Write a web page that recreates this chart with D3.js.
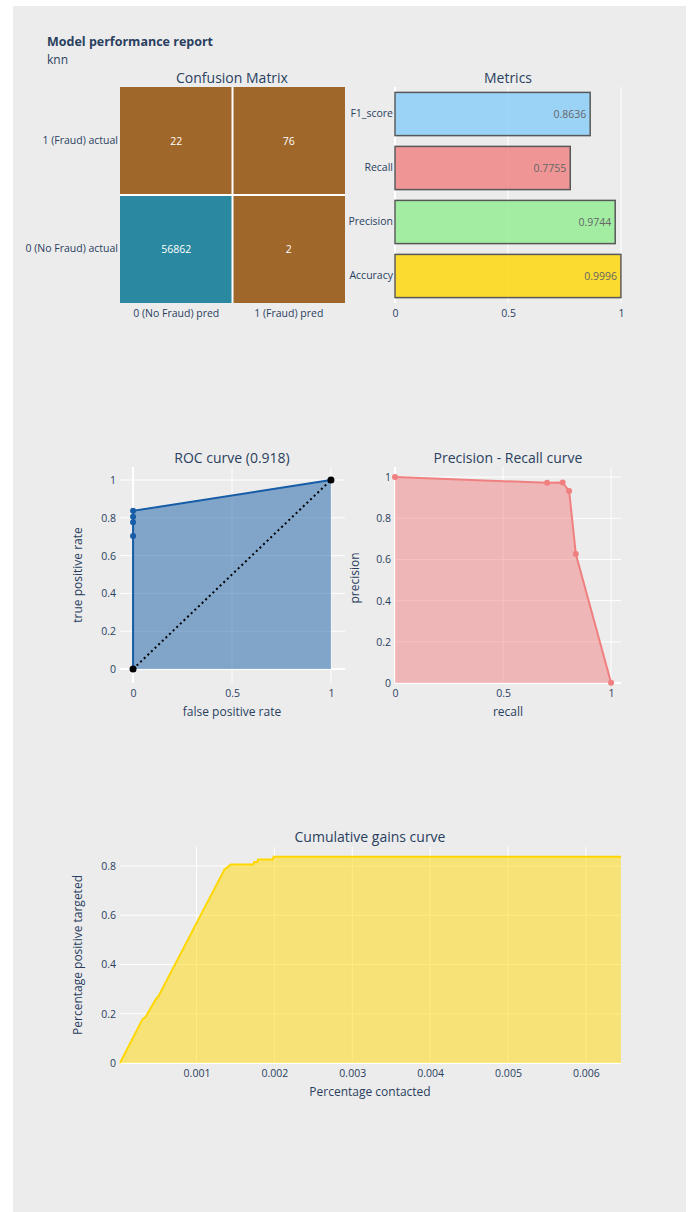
<!DOCTYPE html>
<html>
<head>
<meta charset="utf-8">
<script src="https://cdn.jsdelivr.net/npm/d3@7"></script>
<style>
  body { margin: 0; background: #fff; }
  text { font-family: "Open Sans", verdana, arial, sans-serif; fill: #2a3f5f; }
</style>
</head>
<body>
<div class="chart"></div>
<script>
// ---- data ----
var cmRows = ["1 (Fraud) actual", "0 (No Fraud) actual"];
var cmCols = ["0 (No Fraud) pred", "1 (Fraud) pred"];
var cmValues = [[22, 76], [56862, 2]];

var metricNames = ["F1_score", "Recall", "Precision", "Accuracy"];
var metricValues = [0.8636, 0.7755, 0.9744, 0.9996];
var metricColors = ["lightskyblue", "lightcoral", "lightgreen", "gold"];

var rocFpr = [0, 0, 0, 0, 0, 1];
var rocTpr = [0, 0.704, 0.776, 0.806, 0.837, 1];
var rocAuc = 0.918;
var diagX = [0, 1];
var diagY = [0, 1];

var prRecall = [0, 0.704, 0.776, 0.806, 0.837, 1];
var prPrecision = [1, 0.972, 0.974, 0.932, 0.626, 0.0017];

var gainsX = [0.0000176, 0.00031, 0.00034, 0.00048, 0.00051, 0.00136, 0.00144,
  0.00173, 0.00174, 0.00178, 0.00179, 0.00198, 0.00199, 0.00645];
var gainsY = [0, 0.18, 0.184, 0.26, 0.27, 0.786, 0.806,
  0.806, 0.816, 0.816, 0.826, 0.826, 0.837, 0.837];

var fontTick = "10.5px";
var fontTitle = "14px";

var svg = d3.select(".chart").append("svg")
  .attr("width", 690)
  .attr("height", 1212);

// page background
svg.append("rect")
  .attr("x", 13).attr("y", 6)
  .attr("width", 673).attr("height", 1206)
  .attr("fill", "#ececec");

svg.append("text")
  .attr("x", 47).attr("y", 46)
  .style("font-size", "12.5px")
  .style("font-weight", "bold")
  .text("Model performance report");
svg.append("text")
  .attr("x", 47).attr("y", 63.5)
  .style("font-size", "12px")
  .text("knn");

function subTitle(x, y, txt) {
  svg.append("text")
    .attr("x", x).attr("y", y)
    .attr("text-anchor", "middle")
    .style("font-size", fontTitle)
    .text(txt);
}

// white grid lines + tick labels for a panel
function drawAxes(g, x, y, xTicks, yTicks, xFmt, yFmt) {
  var x0 = x.range()[0], x1 = x.range()[1];
  var y0 = y.range()[0], y1 = y.range()[1];
  g.selectAll("line.vg").data(xTicks).enter().append("line")
    .attr("x1", d => x(d)).attr("x2", d => x(d))
    .attr("y1", y1).attr("y2", y0)
    .attr("stroke", "#fff").attr("stroke-width", d => d === 0 ? 2 : 1);
  g.selectAll("line.hg").data(yTicks).enter().append("line")
    .attr("y1", d => y(d)).attr("y2", d => y(d))
    .attr("x1", x0).attr("x2", x1)
    .attr("stroke", "#fff").attr("stroke-width", d => d === 0 ? 2 : 1);

  var bottomAxis = d3.axisBottom(x).tickValues(xTicks).tickFormat(xFmt).tickSize(0).tickPadding(7);
  var leftAxis = d3.axisLeft(y).tickValues(yTicks).tickFormat(yFmt).tickSize(0).tickPadding(4);
  var xa = g.append("g").attr("transform", `translate(0, ${y0})`).call(bottomAxis);
  var ya = g.append("g").attr("transform", `translate(${x0}, 0)`).call(leftAxis);
  [xa, ya].forEach(function(a) {
    a.select(".domain").remove();
    a.selectAll("text").style("font-size", fontTick).attr("fill", "#2a3f5f")
      .style("font-family", "'Open Sans', verdana, arial, sans-serif");
  });
}

var fmt = d => d3.format("~g")(d);

// ---- confusion matrix ----
var cmX = d3.scaleBand().domain(cmCols).range([120, 345]);
var cmY = d3.scaleBand().domain(cmRows).range([87, 303]);
var allCm = cmValues.flat();
var cmColor = d3.scaleLinear()
  .domain([d3.min(allCm), d3.max(allCm)])
  .range(["#a0672a", "#2a88a0"]);

var cmG = svg.append("g");
cmG.append("rect").attr("x", 120).attr("y", 87).attr("width", 225).attr("height", 216).attr("fill", "#fff");
cmRows.forEach(function(r, i) {
  cmCols.forEach(function(c, j) {
    cmG.append("rect")
      .attr("x", cmX(c) + (j === 0 ? 0 : 1))
      .attr("y", cmY(r) + (i === 0 ? 0 : 1))
      .attr("width", cmX.bandwidth() - 1)
      .attr("height", cmY.bandwidth() - 1)
      .attr("fill", cmColor(cmValues[i][j]));
    cmG.append("text")
      .attr("x", cmX(c) + cmX.bandwidth() / 2)
      .attr("y", cmY(r) + cmY.bandwidth() / 2)
      .attr("dy", "0.35em")
      .attr("text-anchor", "middle")
      .style("font-size", fontTick)
      .style("fill", "#fff")
      .text(cmValues[i][j]);
  });
});
var cmBottom = cmG.append("g").attr("transform", "translate(0,303)")
  .call(d3.axisBottom(cmX).tickSize(0).tickPadding(7));
var cmLeft = cmG.append("g").attr("transform", "translate(120,0)")
  .call(d3.axisLeft(cmY).tickSize(0).tickPadding(2));
[cmBottom, cmLeft].forEach(function(a) {
  a.select(".domain").remove();
  a.selectAll("text").style("font-size", fontTick).attr("fill", "#2a3f5f")
    .style("font-family", "'Open Sans', verdana, arial, sans-serif");
});
subTitle(232, 83, "Confusion Matrix");

// ---- metrics ----
var mX = d3.scaleLinear().domain([0, 1]).range([395, 621]);
var mY = d3.scaleBand().domain(metricNames).range([87, 303]).paddingInner(0.2).paddingOuter(0.1);
var mG = svg.append("g");
[0, 0.5, 1].forEach(function(t) {
  mG.append("line").attr("x1", mX(t)).attr("x2", mX(t)).attr("y1", 87).attr("y2", 303)
    .attr("stroke", "#fff").attr("stroke-width", t === 0 ? 2 : 1);
});
mG.selectAll("rect.bar").data(metricNames).enter().append("rect")
  .attr("x", mX(0))
  .attr("y", d => mY(d))
  .attr("width", (d, i) => mX(metricValues[i]) - mX(0))
  .attr("height", mY.bandwidth())
  .attr("fill", (d, i) => metricColors[i])
  .attr("stroke", "#333")
  .attr("stroke-width", 1.5)
  .attr("opacity", 0.8);
mG.selectAll("text.val").data(metricNames).enter().append("text")
  .attr("x", (d, i) => mX(metricValues[i]) - 4)
  .attr("y", d => mY(d) + mY.bandwidth() / 2)
  .attr("dy", "0.35em")
  .attr("text-anchor", "end")
  .style("font-size", fontTick)
  .style("fill", "#666")
  .text((d, i) => metricValues[i]);
var mBottom = mG.append("g").attr("transform", "translate(0,303)")
  .call(d3.axisBottom(mX).tickValues([0, 0.5, 1]).tickFormat(fmt).tickSize(0).tickPadding(7));
var mLeft = mG.append("g").attr("transform", "translate(395,0)")
  .call(d3.axisLeft(mY).tickSize(0).tickPadding(2));
[mBottom, mLeft].forEach(function(a) {
  a.select(".domain").remove();
  a.selectAll("text").style("font-size", fontTick).attr("fill", "#2a3f5f")
    .style("font-family", "'Open Sans', verdana, arial, sans-serif");
});
subTitle(508, 83, "Metrics");

// ---- ROC ----
var rocBlue = "rgb(22,92,166)";
var rX = d3.scaleLinear().domain([-0.066, 1.071]).range([120, 345]);
var rY = d3.scaleLinear().domain([-0.074, 1.069]).range([683, 467]);
var rG = svg.append("g");
drawAxes(rG, rX, rY, [0, 0.5, 1], [0, 0.2, 0.4, 0.6, 0.8, 1], fmt, fmt);
var rocPts = rocFpr.map((d, i) => [d, rocTpr[i]]);
rG.append("path").datum(rocPts)
  .attr("d", d3.area().x(d => rX(d[0])).y0(rY(0)).y1(d => rY(d[1])))
  .attr("fill", rocBlue).attr("fill-opacity", 0.5);
rG.append("path").datum(rocPts)
  .attr("d", d3.line().x(d => rX(d[0])).y(d => rY(d[1])))
  .attr("fill", "none").attr("stroke", rocBlue).attr("stroke-width", 2);
rG.selectAll("circle.roc").data(rocPts).enter().append("circle")
  .attr("cx", d => rX(d[0])).attr("cy", d => rY(d[1])).attr("r", 3)
  .attr("fill", rocBlue);
var diagPts = diagX.map((d, i) => [d, diagY[i]]);
rG.append("path").datum(diagPts)
  .attr("d", d3.line().x(d => rX(d[0])).y(d => rY(d[1])))
  .attr("fill", "none").attr("stroke", "#000").attr("stroke-width", 2)
  .attr("stroke-dasharray", "2,3");
rG.selectAll("circle.diag").data(diagPts).enter().append("circle")
  .attr("cx", d => rX(d[0])).attr("cy", d => rY(d[1])).attr("r", 3.5)
  .attr("fill", "#000");
subTitle(232, 463, "ROC curve (" + rocAuc + ")");
rG.append("text").attr("x", 232).attr("y", 716).attr("text-anchor", "middle")
  .style("font-size", "12px").text("false positive rate");
rG.append("text").attr("transform", "translate(82,575) rotate(-90)").attr("text-anchor", "middle")
  .style("font-size", "12px").text("true positive rate");

// ---- Precision - Recall ----
var prColor = "lightcoral";
var pX = d3.scaleLinear().domain([0, 1.046]).range([395, 621]);
var pY = d3.scaleLinear().domain([0, 1.049]).range([683, 467]);
var pG = svg.append("g");
drawAxes(pG, pX, pY, [0, 0.5, 1], [0, 0.2, 0.4, 0.6, 0.8, 1], fmt, fmt);
var prPts = prRecall.map((d, i) => [d, prPrecision[i]]);
pG.append("path").datum(prPts)
  .attr("d", d3.area().x(d => pX(d[0])).y0(pY(0)).y1(d => pY(d[1])))
  .attr("fill", prColor).attr("fill-opacity", 0.5);
pG.append("path").datum(prPts)
  .attr("d", d3.line().x(d => pX(d[0])).y(d => pY(d[1])))
  .attr("fill", "none").attr("stroke", prColor).attr("stroke-width", 2);
pG.selectAll("circle.pr").data(prPts).enter().append("circle")
  .attr("cx", d => pX(d[0])).attr("cy", d => pY(d[1])).attr("r", 3)
  .attr("fill", prColor);
subTitle(508, 463, "Precision - Recall curve");
pG.append("text").attr("x", 508).attr("y", 716).attr("text-anchor", "middle")
  .style("font-size", "12px").text("recall");
pG.append("text").attr("transform", "translate(359,578) rotate(-90)").attr("text-anchor", "middle")
  .style("font-size", "12px").text("precision");

// ---- cumulative gains ----
var gX = d3.scaleLinear().domain([0.0000176, 0.006451]).range([120, 621]);
var gY = d3.scaleLinear().domain([0, 0.877]).range([1063, 847]);
var gG = svg.append("g");
drawAxes(gG, gX, gY, [0.001, 0.002, 0.003, 0.004, 0.005, 0.006], [0, 0.2, 0.4, 0.6, 0.8],
  d3.format(".3f"), fmt);
var gainsPts = gainsX.map((d, i) => [d, gainsY[i]]);
gG.append("path").datum(gainsPts)
  .attr("d", d3.area().x(d => gX(d[0])).y0(gY(0)).y1(d => gY(d[1])))
  .attr("fill", "gold").attr("fill-opacity", 0.5);
gG.append("path").datum(gainsPts)
  .attr("d", d3.line().x(d => gX(d[0])).y(d => gY(d[1])))
  .attr("fill", "none").attr("stroke", "gold").attr("stroke-width", 2);
subTitle(370, 842, "Cumulative gains curve");
gG.append("text").attr("x", 370).attr("y", 1096).attr("text-anchor", "middle")
  .style("font-size", "12px").text("Percentage contacted");
gG.append("text").attr("transform", "translate(82,955) rotate(-90)").attr("text-anchor", "middle")
  .style("font-size", "12px").text("Percentage positive targeted");
</script>
</body>
</html>
